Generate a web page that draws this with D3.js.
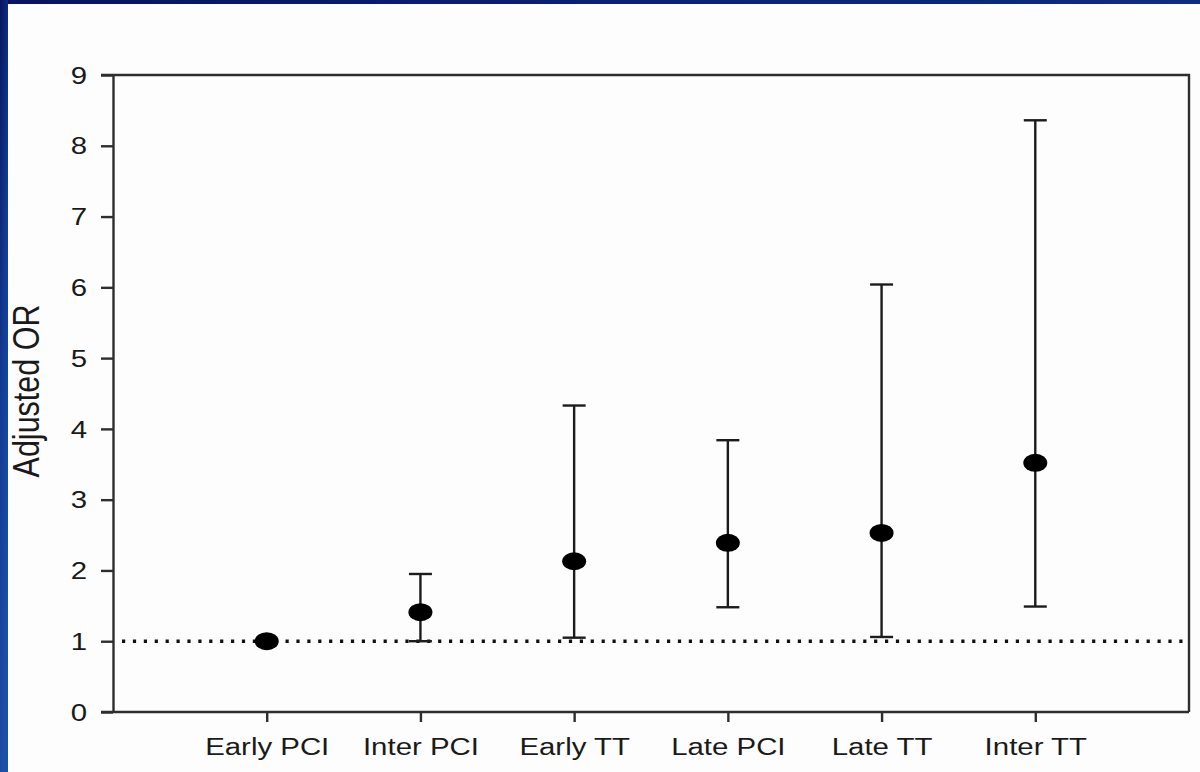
<!DOCTYPE html>
<html>
<head>
<meta charset="utf-8">
<script src="https://cdn.jsdelivr.net/npm/d3@7"></script>
<style>
  html, body { margin: 0; padding: 0; background: #ffffff; }
  svg { display: block; }
  text { font-family: "Liberation Sans", Arial, sans-serif; fill: #1a1a1a; }
</style>
</head>
<body>
<svg id="chart" width="1200" height="772"></svg>
<script>
// Adjusted odds ratios with 95% confidence intervals by reperfusion group
const categories = ["Early PCI", "Inter PCI", "Early TT", "Late PCI", "Late TT", "Inter TT"];
const oddsRatio  = [1.00, 1.41, 2.13, 2.39, 2.53, 3.52];
const ciLower    = [null, 1.00, 1.05, 1.48, 1.06, 1.49];
const ciUpper    = [null, 1.95, 4.33, 3.84, 6.04, 8.36];
const yTicks     = [0, 1, 2, 3, 4, 5, 6, 7, 8, 9];
const referenceOR = 1;

const W = 1200, H = 772;
const plot = { left: 113, right: 1189, top: 75, bottom: 712 };
const stretch = 1.2; // horizontal glyph stretch of the slide artwork

const svg = d3.select("#chart");

// slide background: blue frame with white panel
const defs = svg.append("defs");
const grad = defs.append("linearGradient")
  .attr("id", "slideBlue").attr("x1", "0").attr("y1", "0").attr("x2", "0.35").attr("y2", "1");
grad.append("stop").attr("offset", "0").attr("stop-color", "#08145f");
grad.append("stop").attr("offset", "0.5").attr("stop-color", "#123b92");
grad.append("stop").attr("offset", "1").attr("stop-color", "#1f4ea6");
svg.append("rect").attr("width", W).attr("height", H).attr("fill", "url(#slideBlue)");
const panel = svg.append("g");
panel.append("rect").attr("x", 8).attr("y", 4).attr("width", W - 8).attr("height", H - 4).attr("fill", "#fdfdfd");

const x = d3.scalePoint().domain(categories).range([plot.left, plot.right]).padding(1);
const y = d3.scaleLinear().domain([0, 9]).range([plot.bottom, plot.top]);

const axisColor = "#2e2e2e";

// y axis title (sits partly under the blue frame)
svg.append("text")
  .attr("transform", `translate(39,391) rotate(-90) scale(1,${stretch})`)
  .attr("text-anchor", "middle")
  .attr("font-size", 30.5)
  .text("Adjusted OR");
// blue frame drawn over the title edge
svg.append("rect").attr("x", 0).attr("y", 0).attr("width", 8).attr("height", H).attr("fill", "url(#slideBlue)");

// frame (top and right edges)
svg.append("path")
  .attr("d", `M${plot.left - 12},${plot.top}H${plot.right}V${plot.bottom}`)
  .attr("fill", "none").attr("stroke", axisColor).attr("stroke-width", 2.4);

// y axis
const yAxis = svg.append("g")
  .attr("transform", `translate(${plot.left},0)`)
  .call(d3.axisLeft(y).tickValues(yTicks).tickSize(12).tickSizeOuter(0).tickFormat(d3.format("d")));
yAxis.select(".domain").attr("stroke", axisColor).attr("stroke-width", 2.4);
yAxis.selectAll(".tick line").attr("stroke", axisColor).attr("stroke-width", 2.4);
yAxis.selectAll(".tick text")
  .attr("x", null).attr("dy", null)
  .attr("text-anchor", "end")
  .attr("dominant-baseline", "central")
  .attr("font-size", 24.5)
  .attr("transform", `translate(-26,0) scale(${stretch},1)`);

// x axis
const xAxis = svg.append("g")
  .attr("transform", `translate(0,${plot.bottom})`)
  .call(d3.axisBottom(x).tickSize(10).tickSizeOuter(0));
xAxis.select(".domain").attr("d", `M${plot.left - 12},0H${plot.right}`)
  .attr("stroke", axisColor).attr("stroke-width", 2.4);
xAxis.selectAll(".tick line").attr("stroke", axisColor).attr("stroke-width", 2.4);
xAxis.selectAll(".tick text")
  .attr("y", null).attr("dy", null)
  .attr("text-anchor", "middle")
  .attr("font-size", 24.5)
  .attr("transform", `translate(0,43) scale(${stretch},1)`);

svg.selectAll(".tick text").attr("fill", "#1a1a1a");

// reference line at OR = 1
svg.append("line")
  .attr("x1", plot.left + 9).attr("x2", plot.right - 2)
  .attr("y1", y(referenceOR)).attr("y2", y(referenceOR))
  .attr("stroke", "#111").attr("stroke-width", 3.4)
  .attr("stroke-dasharray", "3.2 7.7");

// confidence intervals
const rows = categories.map((c, i) => ({ c, or: oddsRatio[i], lo: ciLower[i], hi: ciUpper[i] }));
const withCI = rows.filter(d => d.lo != null && d.hi != null);
const capHalf = 11.5;
const bars = svg.append("g").attr("stroke", "#1c1c1c").attr("stroke-width", 2.4).attr("fill", "none");
bars.selectAll("line.whisker").data(withCI).join("line")
  .attr("class", "whisker")
  .attr("x1", d => x(d.c)).attr("x2", d => x(d.c))
  .attr("y1", d => y(d.lo)).attr("y2", d => y(d.hi));
bars.selectAll("line.capHi").data(withCI).join("line")
  .attr("class", "capHi")
  .attr("x1", d => x(d.c) - capHalf).attr("x2", d => x(d.c) + capHalf)
  .attr("y1", d => y(d.hi)).attr("y2", d => y(d.hi));
bars.selectAll("line.capLo").data(withCI).join("line")
  .attr("class", "capLo")
  .attr("x1", d => x(d.c) - capHalf).attr("x2", d => x(d.c) + capHalf)
  .attr("y1", d => y(d.lo)).attr("y2", d => y(d.lo));

// point estimates
svg.append("g").selectAll("ellipse").data(rows).join("ellipse")
  .attr("cx", d => x(d.c)).attr("cy", d => y(d.or))
  .attr("rx", 12).attr("ry", 9)
  .attr("fill", "#000");
</script>
</body>
</html>
